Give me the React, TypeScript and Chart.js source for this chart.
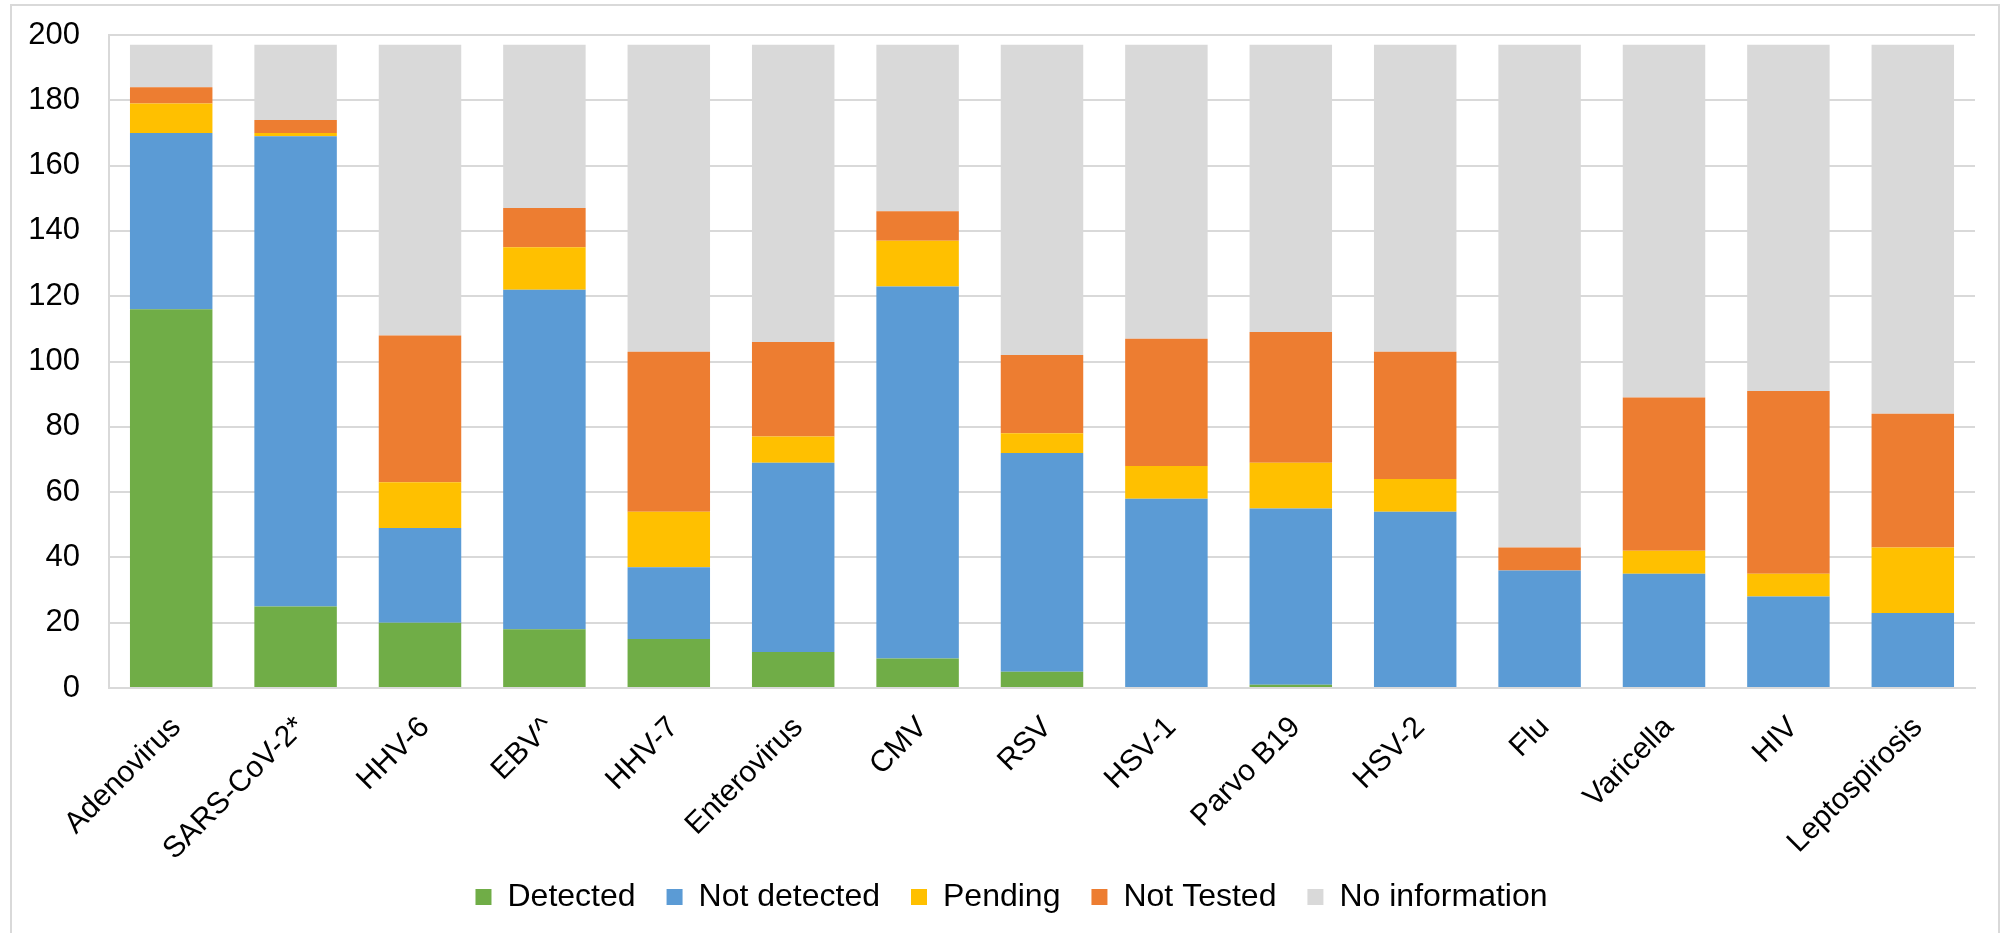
import React, { useEffect, useRef } from "react";
import { Chart, registerables } from "chart.js";

Chart.register(...registerables);

const categories = [
  "Adenovirus", "SARS-CoV-2*", "HHV-6", "EBV^", "HHV-7", "Enterovirus", "CMV", "RSV",
  "HSV-1", "Parvo B19", "HSV-2", "Flu", "Varicella", "HIV", "Leptospirosis",
];
const detected = [116, 25, 20, 18, 15, 11, 9, 5, 0, 1, 0, 0, 0, 0, 0];
const notDetected = [54, 144, 29, 104, 22, 58, 114, 67, 58, 54, 54, 36, 35, 28, 23];
const pending = [9, 1, 14, 13, 17, 8, 14, 6, 10, 14, 10, 0, 7, 7, 20];
const notTested = [5, 4, 45, 12, 49, 29, 9, 24, 39, 40, 39, 7, 47, 56, 41];
const noInformation = [13, 23, 89, 50, 94, 91, 51, 95, 90, 88, 94, 154, 108, 106, 113];

const yMin = 0;
const yMax = 200;
const yStep = 20;

const FONT = "'Liberation Sans', Arial, sans-serif";

const legendShift = {
  id: "legendShift",
  afterLayout(chart: any) {
    const lg = chart.legend;
    if (lg) {
      lg.left += 24;
      lg.right += 24;
    }
  },
};

export default function App() {
  const canvasRef = useRef<HTMLCanvasElement | null>(null);

  useEffect(() => {
    if (!canvasRef.current) return;
    const mk = (label: string, data: number[], color: string) => ({
      label,
      data,
      backgroundColor: color,
      borderWidth: 0,
      categoryPercentage: 1,
      barPercentage: 0.663,
    });
    const chart = new Chart(canvasRef.current, {
      type: "bar",
      data: {
        labels: categories,
        datasets: [
          mk("Detected", detected, "#70AD47"),
          mk("Not detected", notDetected, "#5B9BD5"),
          mk("Pending", pending, "#FFC000"),
          mk("Not Tested", notTested, "#ED7D31"),
          mk("No information", noInformation, "#D9D9D9"),
        ],
      },
      plugins: [legendShift],
      options: {
        animation: false,
        responsive: false,
        maintainAspectRatio: false,
        layout: { padding: { left: 0, right: 31, top: 35, bottom: 10 } },
        plugins: {
          tooltip: { enabled: false },
          legend: {
            position: "bottom",
            labels: {
              boxWidth: 16,
              boxHeight: 16,
              padding: 31,
              color: "#000",
              font: { family: FONT, size: 32 },
            },
          },
        },
        scales: {
          x: {
            stacked: true,
            grid: { display: false, drawTicks: false },
            border: { color: "#d9d9d9", width: 2 },
            ticks: {
              color: "#000",
              font: { family: FONT, size: 30 },
              maxRotation: 45,
              minRotation: 45,
              autoSkip: false,
              padding: 22,
              labelOffset: 5,
            },
            afterFit: (s: any) => {
              s.height = 162;
              s._computeLabelArea = () => undefined;
            },
          },
          y: {
            stacked: true,
            min: yMin,
            max: yMax,
            grid: { color: "#d9d9d9", lineWidth: 2, drawTicks: false },
            border: { color: "#d9d9d9", width: 2 },
            ticks: {
              stepSize: yStep,
              color: "#000",
              font: { family: FONT, size: 31 },
              padding: 29,
            },
            afterFit: (s: any) => {
              s.width = 109;
              s.paddingTop = 0;
            },
          },
        },
      },
    });
    return () => chart.destroy();
  }, []);

  return (
    <div style={{ position: "fixed", left: 0, top: 0, width: 2006, height: 933, background: "#fff" }}>
      <div
        style={{
          position: "absolute",
          left: 10,
          top: 4,
          width: 1990,
          height: 940,
          border: "2px solid #d9d9d9",
          boxSizing: "border-box",
        }}
      />
      <canvas ref={canvasRef} width={2006} height={933} style={{ position: "absolute", left: 0, top: 0 }} />
    </div>
  );
}
